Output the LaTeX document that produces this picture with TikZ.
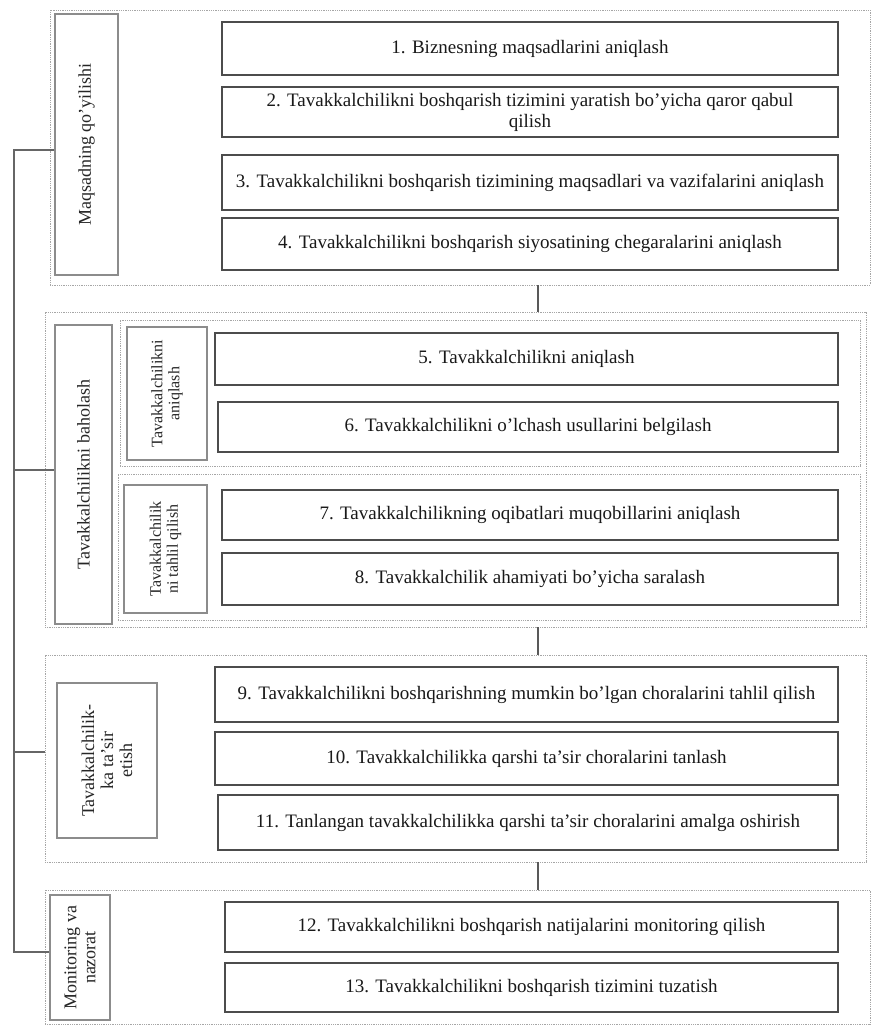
\documentclass[tikz,border=0pt]{standalone}
\usepackage{fontspec}
\setmainfont{Liberation Serif}
\begin{document}
\begin{tikzpicture}[x=1pt,y=-1pt,
  itembox/.style={draw=black!70, line width=1.6pt, inner sep=0pt, fill=white,
    font=\fontsize{19}{21}\selectfont, text=black!90, align=center},
  groupbox/.style={draw=black!35, line width=0.8pt, densely dotted, inner sep=0pt},
  labelbox/.style={draw=black!45, line width=1.1pt, inner sep=0pt, fill=white},
  labeltext/.style={rotate=90, align=center, font=\fontsize{18}{19}\selectfont, text=black!85, inner sep=0pt},
  sublabeltext/.style={labeltext, font=\fontsize{16}{17}\selectfont},
  tree/.style={draw=black!60, line width=1.1pt},
  link/.style={draw=black!65, line width=1.1pt}]
\useasboundingbox (0,0) rectangle (873,1025);
\fill[white] (0,0) rectangle (873,1025);

% group outlines
\node[groupbox, minimum width=820pt, minimum height=275pt] (g1) at (460,147.5) {};
\node[groupbox, minimum width=821pt, minimum height=315pt] (g2) at (455.5,469.5) {};
\node[groupbox, minimum width=740pt, minimum height=146pt] (g2a) at (490,393) {};
\node[groupbox, minimum width=742pt, minimum height=146pt] (g2b) at (489,547) {};
\node[groupbox, minimum width=821pt, minimum height=207pt] (g3) at (455.5,758.5) {};
\node[groupbox, minimum width=825pt, minimum height=134pt] (g4) at (457.5,957) {};

% label boxes
\node[labelbox, minimum width=63pt, minimum height=261pt] (L1) at (86.5,144.5) {};
\node[labeltext] (L1t) at (L1.center) {Maqsadning qo'yilishi};
\node[labelbox, minimum width=57pt, minimum height=299pt] (L2) at (83.5,474.5) {};
\node[labeltext] (L2t) at (L2.center) {Tavakkalchilikni baholash};
\node[labelbox, minimum width=80pt, minimum height=133pt] (L2a) at (167,393.5) {};
\node[sublabeltext] (L2at) at (L2a.center) {Tavakkalchilikni\\aniqlash};
\node[labelbox, minimum width=83pt, minimum height=128pt] (L2b) at (165.5,549) {};
\node[sublabeltext] (L2bt) at (L2b.center) {Tavakkalchilik\\ni tahlil qilish};
\node[labelbox, minimum width=100pt, minimum height=155pt] (L3) at (107,760.5) {};
\node[labeltext] (L3t) at (L3.center) {Tavakkalchilik-\\ka ta'sir\\etish};
\node[labelbox, minimum width=60pt, minimum height=125pt] (L4) at (80,957.5) {};
\node[labeltext] (L4t) at (L4.center) {Monitoring va\\nazorat};

% items
\node[itembox, minimum width=616pt, minimum height=53pt] (i1) at (530,48.5) {1. Biznesning maqsadlarini aniqlash};
\node[itembox, minimum width=616pt, minimum height=50pt] (i2) at (530,112) {2. Tavakkalchilikni boshqarish tizimini yaratish bo'yicha qaror qabul\\qilish};
\node[itembox, minimum width=616pt, minimum height=55pt] (i3) at (530,182.5) {3. Tavakkalchilikni boshqarish tizimining maqsadlari va vazifalarini aniqlash};
\node[itembox, minimum width=616pt, minimum height=52pt] (i4) at (530,244) {4. Tavakkalchilikni boshqarish siyosatining chegaralarini aniqlash};
\node[itembox, minimum width=623pt, minimum height=52pt] (i5) at (526.5,359) {5. Tavakkalchilikni aniqlash};
\node[itembox, minimum width=620pt, minimum height=50pt] (i6) at (528,427) {6. Tavakkalchilikni o'lchash usullarini belgilash};
\node[itembox, minimum width=616pt, minimum height=50pt] (i7) at (530,515) {7. Tavakkalchilikning oqibatlari muqobillarini aniqlash};
\node[itembox, minimum width=616pt, minimum height=52pt] (i8) at (530,579) {8. Tavakkalchilik ahamiyati bo'yicha saralash};
\node[itembox, minimum width=623pt, minimum height=55pt] (i9) at (526.5,694.5) {9. Tavakkalchilikni boshqarishning mumkin bo'lgan choralarini tahlil qilish};
\node[itembox, minimum width=623pt, minimum height=53pt] (i10) at (526.5,758.5) {10. Tavakkalchilikka qarshi ta'sir choralarini tanlash};
\node[itembox, minimum width=620pt, minimum height=55pt] (i11) at (528,822.5) {11. Tanlangan tavakkalchilikka qarshi ta'sir choralarini amalga oshirish};
\node[itembox, minimum width=613pt, minimum height=50pt] (i12) at (531.5,927) {12. Tavakkalchilikni boshqarish natijalarini monitoring qilish};
\node[itembox, minimum width=613pt, minimum height=49pt] (i13) at (531.5,987.5) {13. Tavakkalchilikni boshqarish tizimini tuzatish};

% links between groups
\coordinate (cx) at (538,0);
\draw[link] (g1.south -| cx) -- (g2.north -| cx);
\draw[link] (g2.south -| cx) -- (g3.north -| cx);
\draw[link] (g3.south -| cx) -- (g4.north -| cx);

% left tree
\coordinate (tx) at (14,0);
\coordinate (t1) at (14,150);
\coordinate (t2) at (14,470);
\coordinate (t3) at (14,752);
\coordinate (t4) at (14,952);
\draw[tree] (L1.west |- t1) -- (t1) -- (t4) -- (L4.west |- t4);
\draw[tree] (t2) -- (L2.west |- t2);
\draw[tree] (t3) -- (g3.west |- t3);
\end{tikzpicture}
\end{document}
